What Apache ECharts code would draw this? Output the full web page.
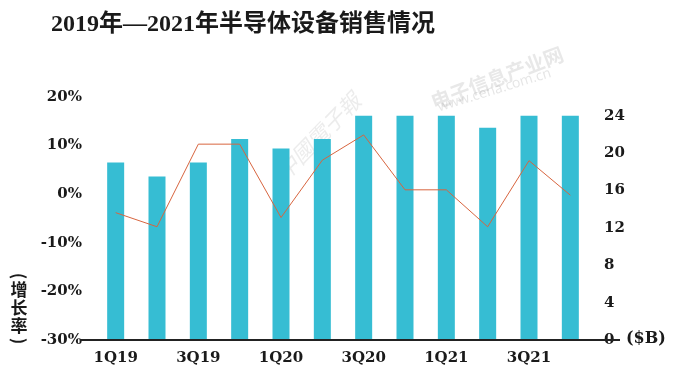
<!DOCTYPE html>
<html><head><meta charset="utf-8">
<script src="https://cdn.jsdelivr.net/npm/echarts@6/dist/echarts.min.js"></script>
<style>html,body{margin:0;padding:0;background:#fff}#c{width:676px;height:390px}</style>
</head><body><div id="c"></div>
<script>
var categories = ['1Q19','2Q19','3Q19','4Q19','1Q20','2Q20','3Q20','4Q20','1Q21','2Q21','3Q21','4Q21'];
var sales = [19.0, 17.5, 19.0, 21.5, 20.5, 21.5, 24.0, 24.0, 24.0, 22.7, 24.0, 24.0];
var growth = [-3.8, -6.7, 10.3, 10.3, -4.8, 7.0, 12.2, 0.9, 0.9, -6.7, 6.9, -0.2];
var leftTicks = [-30, 20, 10];
var rightTicks = [0, 26, 4];

var serif = "'DejaVu Serif','Liberation Serif','Noto Sans CJK SC',serif";
var vfont = "bold 17px 'Noto Sans CJK SC'";
var chart = echarts.init(document.getElementById('c'));
chart.setOption({
  animation: false,
  backgroundColor: '#fff',
  title: {
    text: '2019年—2021年半导体设备销售情况',
    left: 46, top: 8,
    textStyle: {fontFamily: "'Liberation Serif','Noto Sans CJK SC',serif", fontWeight: 'bold', fontSize: 24, color: '#1a1a1a'}
  },
  grid: {left: 95, right: 85, top: 97, bottom: 50},
  xAxis: {
    type: 'category', data: categories,
    axisLine: {show: false}, axisTick: {show: false},
    axisLabel: {interval: 1, margin: 11, fontFamily: serif, fontWeight: 'bold', fontSize: 15, color: '#1a1a1a'}
  },
  yAxis: [{
    type: 'value', min: leftTicks[0], max: leftTicks[1], interval: leftTicks[2],
    splitLine: {show: false}, axisLine: {show: false}, axisTick: {show: false},
    axisLabel: {margin: 13, formatter: '{value}%', fontFamily: serif, fontWeight: 'bold', fontSize: 15, color: '#1a1a1a'}
  }, {
    type: 'value', min: rightTicks[0], max: rightTicks[1], interval: rightTicks[2],
    splitLine: {show: false}, axisLine: {show: false}, axisTick: {show: false},
    axisLabel: {margin: 13, showMaxLabel: false, fontFamily: serif, fontWeight: 'bold', fontSize: 15, color: '#1a1a1a'}
  }],
  series: [{
    type: 'bar', yAxisIndex: 1, data: sales, barWidth: 17,
    itemStyle: {color: '#36bdd3'}
  }, {
    type: 'line', yAxisIndex: 0, data: growth, symbol: 'none',
    lineStyle: {color: '#d8653f', width: 1}
  }],
  graphic: [
    {type: 'line', shape: {x1: 80, y1: 340, x2: 620, y2: 340}, style: {stroke: '#222', lineWidth: 2}, z: 10},
    {type: 'text', left: 626, top: 331, style: {text: '($B)', font: "bold 16px 'DejaVu Serif','Liberation Serif',serif", fill: '#1a1a1a'}},
    {type: 'text', x: 19, y: 276, rotation: -Math.PI / 2, originX: 0, originY: 0, style: {text: '(', font: vfont, fill: '#1a1a1a', align: 'center', verticalAlign: 'middle'}},
    {type: 'text', x: 19, y: 290, style: {text: '增', font: vfont, fill: '#1a1a1a', align: 'center', verticalAlign: 'middle'}},
    {type: 'text', x: 19, y: 308, style: {text: '长', font: vfont, fill: '#1a1a1a', align: 'center', verticalAlign: 'middle'}},
    {type: 'text', x: 19, y: 326, style: {text: '率', font: vfont, fill: '#1a1a1a', align: 'center', verticalAlign: 'middle'}},
    {type: 'text', x: 19, y: 341, rotation: -Math.PI / 2, originX: 0, originY: 0, style: {text: ')', font: vfont, fill: '#1a1a1a', align: 'center', verticalAlign: 'middle'}},
    {type: 'text', x: 428, y: 93, rotation: 0.36, style: {text: '电子信息产业网', font: "bold 20px 'Noto Sans CJK SC'", fill: 'rgba(150,150,150,0.22)'}},
    {type: 'text', x: 436, y: 101, rotation: 0.30, style: {text: 'www.cena.com.cn', font: "14px 'Open Sans'", fill: 'rgba(150,150,150,0.25)'}},
    {type: 'text', x: 272, y: 168, rotation: 0.8, style: {text: '中國電子報', font: "italic 22px 'Noto Sans CJK TC'", fill: 'rgba(150,150,150,0.18)'}}
  ]
});
</script></body></html>
